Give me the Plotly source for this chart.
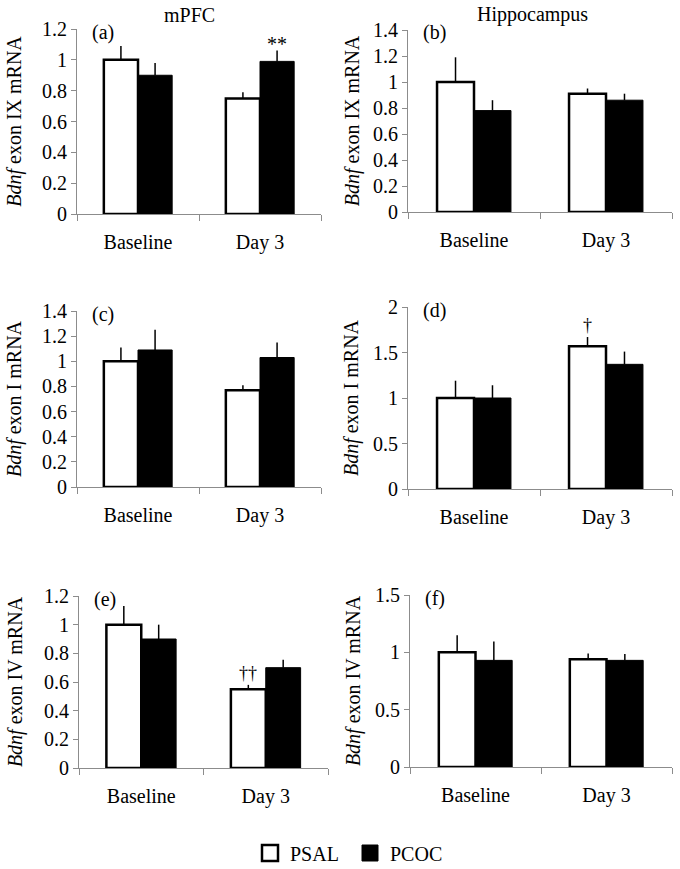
import plotly.graph_objects as go

categories = ["Baseline", "Day 3"]
series_names = ["PSAL", "PCOC"]

# panel values (mean, upward SEM)
a_psal = [1.00, 0.75]; a_psal_err = [0.09, 0.04]
a_pcoc = [0.90, 0.99]; a_pcoc_err = [0.08, 0.07]
b_psal = [1.00, 0.91]; b_psal_err = [0.19, 0.04]
b_pcoc = [0.78, 0.86]; b_pcoc_err = [0.08, 0.05]
c_psal = [1.00, 0.77]; c_psal_err = [0.11, 0.04]
c_pcoc = [1.09, 1.03]; c_pcoc_err = [0.16, 0.12]
d_psal = [1.00, 1.57]; d_psal_err = [0.19, 0.10]
d_pcoc = [1.00, 1.37]; d_pcoc_err = [0.14, 0.14]
e_psal = [1.00, 0.55]; e_psal_err = [0.13, 0.03]
e_pcoc = [0.90, 0.70]; e_pcoc_err = [0.10, 0.055]
f_psal = [1.00, 0.94]; f_psal_err = [0.15, 0.05]
f_pcoc = [0.93, 0.93]; f_pcoc_err = [0.165, 0.055]

panel_labels = ["(a)", "(b)", "(c)", "(d)", "(e)", "(f)"]
y_titles = ["<i>Bdnf</i> exon IX mRNA", "<i>Bdnf</i> exon IX mRNA",
            "<i>Bdnf</i> exon I mRNA", "<i>Bdnf</i> exon I mRNA",
            "<i>Bdnf</i> exon IV mRNA", "<i>Bdnf</i> exon IV mRNA"]
y_ranges = [1.2, 1.4, 1.4, 2.0, 1.2, 1.5]
y_dticks = [0.2, 0.2, 0.2, 0.5, 0.2, 0.5]
column_titles = ["mPFC", "Hippocampus"]

panels = [
    (a_psal, a_psal_err, a_pcoc, a_pcoc_err),
    (b_psal, b_psal_err, b_pcoc, b_pcoc_err),
    (c_psal, c_psal_err, c_pcoc, c_pcoc_err),
    (d_psal, d_psal_err, d_pcoc, d_pcoc_err),
    (e_psal, e_psal_err, e_pcoc, e_pcoc_err),
    (f_psal, f_psal_err, f_pcoc, f_pcoc_err),
]

W, H = 680, 869
# pixel boxes: (left, right, bottom, top)
boxes = [
    (77, 321, 214, 29),
    (408, 672, 212, 30),
    (77, 321, 487, 311),
    (408, 672, 489, 307),
    (79, 328, 768, 596),
    (410, 672, 767, 595),
]
title_standoffs = [15, 8, 15, 9, 16, 9]

FONT = "Liberation Serif"
PSAL_MARKER = dict(color="white", line=dict(color="black", width=2.5))
PCOC_MARKER = dict(color="black", line=dict(color="black", width=1))

fig = go.Figure()
layout = {}
annotations = []
for i, (ps, pse, pc, pce) in enumerate(panels):
    n = i + 1
    xa = "x" if n == 1 else f"x{n}"
    ya = "y" if n == 1 else f"y{n}"
    fig.add_trace(go.Bar(
        x=categories, y=ps, name=series_names[0], xaxis=xa, yaxis=ya,
        marker=PSAL_MARKER,
        error_y=dict(type="data", symmetric=False, array=pse, arrayminus=[0, 0],
                     color="black", thickness=1.5, width=0),
        showlegend=False))
    fig.add_trace(go.Bar(
        x=categories, y=pc, name=series_names[1], xaxis=xa, yaxis=ya,
        marker=PCOC_MARKER,
        error_y=dict(type="data", symmetric=False, array=pce, arrayminus=[0, 0],
                     color="black", thickness=1.5, width=0),
        showlegend=False))
    l, r, b, t = boxes[i]
    key = "" if n == 1 else str(n)
    layout[f"xaxis{key}"] = dict(
        domain=[l / W, r / W], anchor=ya, type="category", automargin=False,
        showline=True, linecolor="#8c8c8c", linewidth=1,
        ticks="outside", tickson="boundaries", ticklen=6, tickcolor="#8c8c8c",
        tickfont=dict(size=20, color="black", family=FONT),
        ticklabelstandoff=10, showgrid=False, zeroline=False, fixedrange=True)
    layout[f"yaxis{key}"] = dict(
        domain=[1 - b / H, 1 - t / H], anchor=xa, automargin=False,
        range=[0, y_ranges[i]], dtick=y_dticks[i], tick0=0,
        showline=True, linecolor="#8c8c8c", linewidth=1,
        ticks="outside", ticklen=5, tickcolor="#8c8c8c",
        tickfont=dict(size=20, color="black", family=FONT),
        showgrid=False, zeroline=False, fixedrange=True,
        title=dict(text=y_titles[i], font=dict(size=20, color="black", family=FONT),
                   standoff=title_standoffs[i]))
    annotations.append(dict(
        text=panel_labels[i], xref="paper", yref="paper",
        x=(l + 13) / W, y=1 - (t + 3) / H, xanchor="left", yanchor="middle",
        showarrow=False, font=dict(size=20, color="black", family=FONT)))

# legend-only entries (no data drawn)
fig.add_trace(go.Scatter(x=[None], y=[None], mode="markers", name=series_names[0],
                         marker=dict(symbol="square", size=18, color="white",
                                     line=dict(color="black", width=2.5))))
fig.add_trace(go.Scatter(x=[None], y=[None], mode="markers", name=series_names[1],
                         marker=dict(symbol="square", size=18, color="black",
                                     line=dict(color="black", width=1))))

# column titles
annotations.append(dict(text=column_titles[0], xref="paper", yref="paper",
                        x=189 / W, y=1 - 15 / H, xanchor="center", yanchor="middle",
                        showarrow=False, font=dict(size=20, color="black", family=FONT)))
annotations.append(dict(text=column_titles[1], xref="paper", yref="paper",
                        x=532 / W, y=1 - 15 / H, xanchor="center", yanchor="middle",
                        showarrow=False, font=dict(size=20, color="black", family=FONT)))

# significance marks (positioned at bar top + error)
annotations.append(dict(text="**", xref="x", yref="y", x=1.14,
                        y=a_pcoc[1] + a_pcoc_err[1], yanchor="bottom", yshift=-6,
                        showarrow=False, font=dict(size=20, color="black", family=FONT)))
annotations.append(dict(text="†", xref="x4", yref="y4", x=0.86,
                        y=d_psal[1] + d_psal_err[1], yanchor="bottom", yshift=0,
                        showarrow=False, font=dict(size=18, color="black", family=FONT)))
annotations.append(dict(text="††", xref="x5", yref="y5", x=0.86,
                        y=e_psal[1] + e_psal_err[1], yanchor="bottom", yshift=0,
                        showarrow=False, font=dict(size=18, color="black", family=FONT)))

fig.update_layout(
    **layout,
    template="none",
    annotations=annotations,
    barmode="group", bargap=0.44, bargroupgap=0,
    width=W, height=H, margin=dict(l=0, r=0, t=0, b=0, pad=0, autoexpand=False),
    plot_bgcolor="white", paper_bgcolor="white",
    font=dict(family=FONT, color="black", size=20),
    showlegend=True,
    legend=dict(orientation="h", x=250 / W, xanchor="left", y=1 - 853 / H, yanchor="middle",
                font=dict(size=20, family=FONT, color="black"),
                itemwidth=30, itemsizing="trace", tracegroupgap=0, entrywidth=55,
                bgcolor="rgba(0,0,0,0)", borderwidth=0),
)

fig.write_html("out.html", config={"displayModeBar": False},
               post_script="document.body.style.margin='0';document.body.style.overflow='hidden';")
